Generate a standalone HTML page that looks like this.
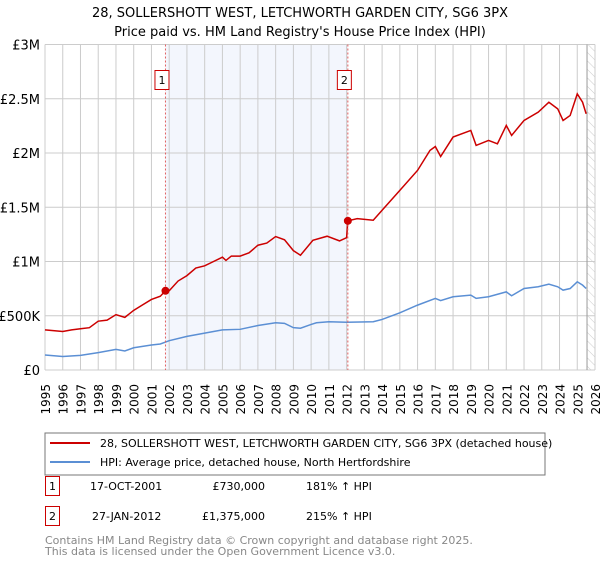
<!DOCTYPE html>
<html><head><meta charset="utf-8"><style>
body{margin:0;background:#fff;}
svg{font-family:"DejaVu Sans","Liberation Sans",sans-serif;}
</style></head><body>
<svg id="c" width="600" height="560" viewBox="0 0 600 560">
<defs><pattern id="hatch" width="6" height="6" patternUnits="userSpaceOnUse" patternTransform="rotate(-45)"><line x1="0" y1="0" x2="0" y2="6" stroke="#ccc" stroke-width="1"/></pattern></defs>
<text x="300" y="17" text-anchor="middle" font-size="13">28, SOLLERSHOTT WEST, LETCHWORTH GARDEN CITY, SG6 3PX</text>
<text x="300" y="36" text-anchor="middle" font-size="13">Price paid vs. HM Land Registry's House Price Index (HPI)</text>
<g id="plot"></g>
<rect x="45" y="433" width="500" height="42" fill="#fff" stroke="#777"/>
<line x1="50" y1="443" x2="90" y2="443" stroke="#cc0000" stroke-width="2"/>
<text x="100" y="447" font-size="11">28, SOLLERSHOTT WEST, LETCHWORTH GARDEN CITY, SG6 3PX (detached house)</text>
<line x1="50" y1="462" x2="90" y2="462" stroke="#5b8fd4" stroke-width="2"/>
<text x="100" y="466" font-size="11">HPI: Average price, detached house, North Hertfordshire</text>
<g font-size="11">
<rect x="45.5" y="476.5" width="14" height="19" fill="none" stroke="#cc0000"/>
<text x="52.5" y="490" text-anchor="middle">1</text>
<text x="90" y="490">17-OCT-2001</text>
<text x="265" y="490" text-anchor="end">£730,000</text>
<text x="306" y="490">181% ↑ HPI</text>
<rect x="45.5" y="506.5" width="14" height="19" fill="none" stroke="#cc0000"/>
<text x="52.5" y="520" text-anchor="middle">2</text>
<text x="92" y="520">27-JAN-2012</text>
<text x="265" y="520" text-anchor="end">£1,375,000</text>
<text x="306" y="520">215% ↑ HPI</text>
</g>
<text x="45" y="544" font-size="11" fill="#888">Contains HM Land Registry data © Crown copyright and database right 2025.</text>
<text x="45" y="555" font-size="11" fill="#888">This data is licensed under the Open Government Licence v3.0.</text>
</svg>
<script>
const yearTicks=[1995,1996,1997,1998,1999,2000,2001,2002,2003,2004,2005,2006,2007,2008,2009,2010,2011,2012,2013,2014,2015,2016,2017,2018,2019,2020,2021,2022,2023,2024,2025,2026];
const yTickValues=[0,500,1000,1500,2000,2500,3000];
const yTickLabels=["£0","£500K","£1M","£1.5M","£2M","£2.5M","£3M"];
const propT=[1995,1996,1996.5,1997,1997.5,1998,1998.5,1999,1999.5,2000,2000.5,2001,2001.5,2001.79,2002,2002.5,2003,2003.5,2004,2004.5,2005,2005.2,2005.5,2006,2006.5,2007,2007.5,2008,2008.5,2009,2009.4,2010.1,2010.9,2011.6,2012.0,2012.07,2012.6,2013.5,2014,2015,2016,2016.7,2017,2017.3,2018,2019,2019.3,2020,2020.5,2021,2021.3,2022,2022.8,2023.4,2023.9,2024.2,2024.6,2025.0,2025.3,2025.5];
const propV=[370,355,370,380,390,450,460,510,485,550,600,650,680,730,730,820,870,940,960,1000,1040,1010,1050,1050,1080,1150,1170,1230,1200,1100,1058,1196,1233,1190,1220,1375,1395,1380,1472,1656,1840,2024,2060,1968,2147,2208,2070,2116,2085,2254,2162,2300,2376,2468,2407,2300,2346,2545,2468,2361];
const hpiT=[1995,1996,1997,1998,1999,1999.5,2000,2001,2001.5,2002,2003,2004,2005,2006,2007,2008,2008.5,2009,2009.4,2010,2010.3,2011,2012,2013.5,2014,2015,2016,2017,2017.3,2018,2019,2019.3,2020,2021,2021.3,2022,2022.8,2023.4,2023.9,2024.2,2024.6,2025.0,2025.3,2025.5];
const hpiV=[138,125,135,160,190,175,205,230,240,270,310,340,370,375,410,435,430,390,385,420,435,445,440,445,466,527,598,660,640,675,690,660,675,720,684,751,767,791,767,736,751,813,782,751];
const saleT=[2001.79,2012.07];
const saleV=[730,1375];
const saleLabels=["1","2"];
const NS="http://www.w3.org/2000/svg";
const X0=45,X1=595,Y0=370,Y1=44.5;
const xs=t=>X0+(t-1995)/(2026-1995)*(X1-X0);
const ys=v=>Y0-v/3000*(Y0-Y1);
const g=document.getElementById('plot');
function mk(tag,attrs){const e=document.createElementNS(NS,tag);for(const k in attrs)e.setAttribute(k,attrs[k]);g.appendChild(e);return e;}
let e;
e=mk('rect',{x:xs(saleT[0]),y:Y1,width:xs(saleT[1])-xs(saleT[0]),height:Y0-Y1,fill:'#f3f6fd'});


e=mk('rect',{x:xs(2025.55),y:Y1,width:X1-xs(2025.55),height:Y0-Y1,fill:'url(#hatch)'});


yearTicks.forEach(yr=>{
 e=mk('line',{x1:xs(yr),x2:xs(yr),y1:Y1,y2:Y0,stroke:'#cccccc','stroke-width':1});
 
 
 const x=xs(yr)+5;
 e=mk('text',{x:x,y:384,'font-size':12,'text-anchor':'end',transform:`rotate(-90 ${x} 384)`});
 e.textContent=yr;
 
 
});
yTickValues.forEach((v,i)=>{
 e=mk('line',{x1:X0,x2:X1,y1:ys(v),y2:ys(v),stroke:'#cccccc','stroke-width':1});
 
 
 e=mk('text',{x:40,y:ys(v)+5,'font-size':13,'text-anchor':'end'});
 e.textContent=yTickLabels[i];
 
 
});
e=mk('line',{x1:xs(2025.55),x2:xs(2025.55),y1:Y1,y2:Y0,stroke:'#999','stroke-width':1});


e=mk('polyline',{points:hpiT.map((t,i)=>xs(t)+','+ys(hpiV[i])).join(' '),fill:'none',stroke:'#5b8fd4','stroke-width':1.5});


e=mk('polyline',{points:propT.map((t,i)=>xs(t)+','+ys(propV[i])).join(' '),fill:'none',stroke:'#cc0000','stroke-width':1.5});


saleT.forEach((t,i)=>{
 e=mk('line',{x1:xs(t),x2:xs(t),y1:Y1,y2:Y0,stroke:'#e06060','stroke-width':1,'stroke-dasharray':'2,2'});
 
 
 e=mk('circle',{cx:xs(t),cy:ys(saleV[i]),r:4,fill:'#cc0000'});
 
 
 e=mk('rect',{x:xs(t)-10.5,y:70.5,width:14,height:19,fill:'#fff',stroke:'#cc0000'});
 
 
 e=mk('text',{x:xs(t)-3.5,y:84,'font-size':11,'text-anchor':'middle'});
 e.textContent=saleLabels[i];
 
 
});
</script>
</body></html>
